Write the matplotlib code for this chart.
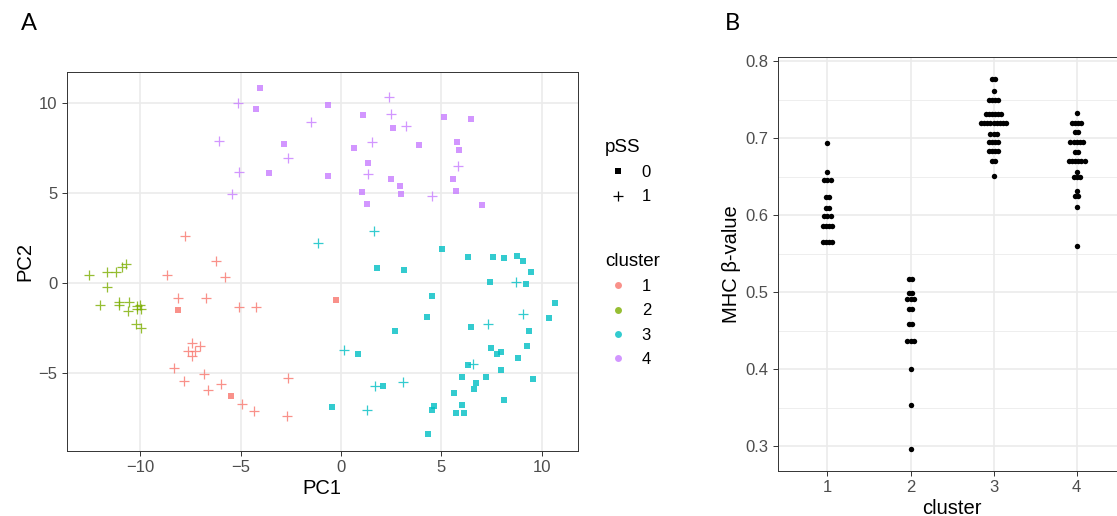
import matplotlib
matplotlib.use("Agg")
import matplotlib.pyplot as plt
from matplotlib.lines import Line2D
import numpy as np

plt.rcParams["font.family"] = ["Liberation Sans", "DejaVu Sans"]

# ---- panel A data: PCA scores, pSS status and cluster of each sample ----
pc1 = [
    # cluster 1
    -7.77, -6.21, -8.65, -5.80, -8.12, -6.73, -5.08, -4.25, -7.41, -7.03, -7.61,
    -7.26, -7.44, -8.30, -6.84, -7.81, -5.96, -6.63, -4.95, -4.32, -2.64, -2.69,
    -8.12, -0.27, -5.48,
    # cluster 2
    -12.54, -11.64, -11.23, -10.93, -10.73, -11.64, -12.01, -11.06, -11.06, -10.56,
    -10.63, -10.15, -10.01, -9.95, -10.15, -10.20, -9.97,
    # cluster 3
    -1.13, 0.13, 1.66, 8.72, 9.05, 7.32, 6.59, 1.71, 3.07, 1.28,
    0.83, -0.45, 5.05, 6.31, 7.57, 8.12, 8.75, 9.08, 9.47, 1.78, 3.14, 7.42, 9.22,
    10.68, 10.36, 4.53, 4.27, 2.68, 6.48, 9.35, 7.46, 7.76, 7.97, 9.27, 8.83, 6.33,
    7.97, 6.04, 7.21, 6.74, 6.64, 9.55, 5.63, 8.14, 2.08, 4.62, 4.52, 6.03, 5.73,
    6.14, 4.32,
    # cluster 4
    -4.02, -4.24, -0.65, -2.82, -3.57, -0.66, 1.11, 5.12, 6.49, 2.61, 0.63, 3.90,
    5.80, 5.88, 1.35, 2.47, 2.94, 5.60, 1.05, 2.97, 5.71, 1.30, 7.03,
    -5.15, -1.51, -6.06, -2.64, -5.08, -5.43, 2.41, 2.51, 3.24, 1.53, 5.83, 1.35, 4.53,
]
pc2 = [
    2.60, 1.20, 0.42, 0.29, -0.86, -0.86, -1.38, -1.38, -3.38, -3.51, -3.82,
    -3.79, -4.08, -4.77, -5.08, -5.45, -5.64, -5.97, -6.73, -7.14, -5.31, -7.42,
    -1.55, -0.97, -6.29,
    0.42, 0.57, 0.60, 0.84, 1.01, -0.23, -1.27, -1.07, -1.27, -1.08,
    -1.60, -1.31, -1.23, -1.45, -1.45, -2.32, -2.51,
    2.19, -3.75, 2.84, 0.03, -1.73, -2.31, -4.51, -5.77, -5.55, -7.10,
    -3.97, -6.93, 1.88, 1.43, 1.43, 1.36, 1.45, 1.21, 0.58, 0.82, 0.68, 0.01, -0.07,
    -1.16, -1.97, -0.75, -1.92, -2.71, -2.49, -2.68, -3.66, -3.97, -3.84, -3.53, -4.19, -4.58,
    -4.84, -5.25, -5.27, -5.58, -5.90, -5.38, -6.12, -6.53, -5.75, -6.86, -7.06, -6.81, -7.27,
    -7.25, -8.42,
    10.79, 9.64, 9.88, 7.68, 6.10, 5.90, 9.31, 9.19, 9.07, 8.60, 7.47, 7.64,
    7.81, 7.38, 6.64, 5.73, 5.38, 5.77, 5.01, 4.90, 5.08, 4.38, 4.32,
    9.96, 8.90, 7.84, 6.90, 6.12, 4.90, 10.31, 9.36, 8.69, 7.81, 6.47, 6.01, 4.79,
]
pss = (
    [1] * 22 + [0] * 3
    + [1] * 17
    + [1] * 10 + [0] * 41
    + [0] * 23 + [1] * 13
)
cluster = [1] * 25 + [2] * 17 + [3] * 51 + [4] * 36

# ---- panel B data: binned MHC beta-values (dotplot rows) per cluster ----
bin_cluster = [1] * 8 + [2] * 9 + [3] * 10 + [4] * 12
bin_value = [
    0.694, 0.656, 0.646, 0.623, 0.609, 0.599, 0.586, 0.565,
    0.517, 0.499, 0.491, 0.478, 0.459, 0.436, 0.400, 0.353, 0.296,
    0.777, 0.761, 0.749, 0.732, 0.720, 0.706, 0.695, 0.683, 0.670, 0.651,
    0.733, 0.720, 0.708, 0.695, 0.682, 0.671, 0.656, 0.649, 0.632, 0.625, 0.610, 0.560,
]
bin_count = [
    1, 1, 3, 2, 2, 3, 4, 4,
    2, 2, 3, 2, 2, 3, 1, 1, 1,
    2, 1, 4, 6, 9, 3, 4, 4, 2, 1,
    1, 4, 2, 5, 2, 6, 1, 3, 1, 2, 1, 1,
]

hue = {1: "#F8766D", 2: "#7CAE00", 3: "#00BFC4", 4: "#C77CFF"}
tick_col = "#4D4D4D"
frame_col = "#333333"
grid_col = "#EBEBEB"
pt_alpha = 0.8


def style_axes(ax):
    # theme_bw look
    for sp in ax.spines.values():
        sp.set_color(frame_col)
        sp.set_linewidth(0.7)
    ax.tick_params(colors=frame_col, labelcolor=tick_col, labelsize=12,
                   length=3.5, width=0.7, pad=3)
    ax.set_axisbelow(True)


fig = plt.figure(figsize=(11.17, 5.16), dpi=100)

# ---------------- panel A ----------------
axA = fig.add_axes([0.0597, 0.126, 0.4577, 0.735])
style_axes(axA)
axA.grid(True, color=grid_col, linewidth=1.2)

pc1 = np.array(pc1)
pc2 = np.array(pc2)
pss = np.array(pss)
cluster = np.array(cluster)
for c in [1, 2, 3, 4]:
    m0 = (cluster == c) & (pss == 0)
    m1 = (cluster == c) & (pss == 1)
    axA.scatter(pc1[m0], pc2[m0], marker="s", s=15, color=hue[c], linewidths=0,
                alpha=pt_alpha)
    axA.scatter(pc1[m1], pc2[m1], marker="+", s=42, color=hue[c], linewidths=0.9,
                alpha=pt_alpha)

axA.set_xlim(-13.67, 11.8)
axA.set_ylim(-9.36, 11.71)
axA.set_xticks([-10, -5, 0, 5, 10])
axA.set_yticks([-5, 0, 5, 10])
axA.set_xlabel("PC1", fontsize=14.5, labelpad=3)
axA.set_ylabel("PC2", fontsize=14.5, labelpad=3)

# legends
h_pss = [
    Line2D([], [], ls="", marker="s", ms=4, color="black", mew=0),
    Line2D([], [], ls="", marker="+", ms=6.5, color="black", mew=0.9),
]
leg1 = fig.legend(h_pss, ["0", "1"], title="pSS", loc="upper left",
                  bbox_to_anchor=(605 / 1117, 1 - 139 / 516), frameon=False,
                  fontsize=12, title_fontsize=13.5, alignment="left",
                  borderpad=0, borderaxespad=0, handlelength=1.6,
                  handletextpad=0.6, labelspacing=0.55)
h_cl = [Line2D([], [], ls="", marker="o", ms=5, color=hue[c], mew=0, alpha=pt_alpha)
        for c in [1, 2, 3, 4]]
leg2 = fig.legend(h_cl, ["1", "2", "3", "4"], title="cluster", loc="upper left",
                  bbox_to_anchor=(605 / 1117, 1 - 253 / 516), frameon=False,
                  fontsize=12, title_fontsize=13.5, alignment="left",
                  borderpad=0, borderaxespad=0, handlelength=1.6,
                  handletextpad=0.6, labelspacing=0.55)

# ---------------- panel B ----------------
axB = fig.add_axes([0.6962, 0.0878, 0.3123, 0.801])
style_axes(axB)
axB.set_yticks(np.arange(0.35, 0.8, 0.1), minor=True)
axB.grid(True, which="major", color=grid_col, linewidth=1.2)
axB.grid(True, which="minor", axis="y", color=grid_col, linewidth=0.6)
axB.tick_params(which="minor", length=0)

# stack dots centred on each cluster, like geom_dotplot(stackdir="center")
step = 0.038
for c, v, n in zip(bin_cluster, bin_value, bin_count):
    xs = c + (np.arange(n) - (n - 1) / 2) * step
    axB.plot(xs, [v] * n, ls="", marker="o", ms=3.9, color="black", mew=0)

axB.set_xlim(0.4, 4.6)
axB.set_ylim(0.268, 0.805)
axB.set_xticks([1, 2, 3, 4])
axB.set_yticks([0.3, 0.4, 0.5, 0.6, 0.7, 0.8])
axB.set_yticklabels(["0.3", "0.4", "0.5", "0.6", "0.7", "0.8"])
axB.set_xlabel("cluster", fontsize=14.5, labelpad=3)
axB.set_ylabel("MHC β-value", fontsize=14.5, labelpad=3)

# panel letters
fig.text(21 / 1117, 1 - 24 / 516, "A", fontsize=17, family="Lato", va="center")
fig.text(725 / 1117, 1 - 24 / 516, "B", fontsize=17, family="Lato", va="center")

fig.savefig("out.png", dpi=100)
